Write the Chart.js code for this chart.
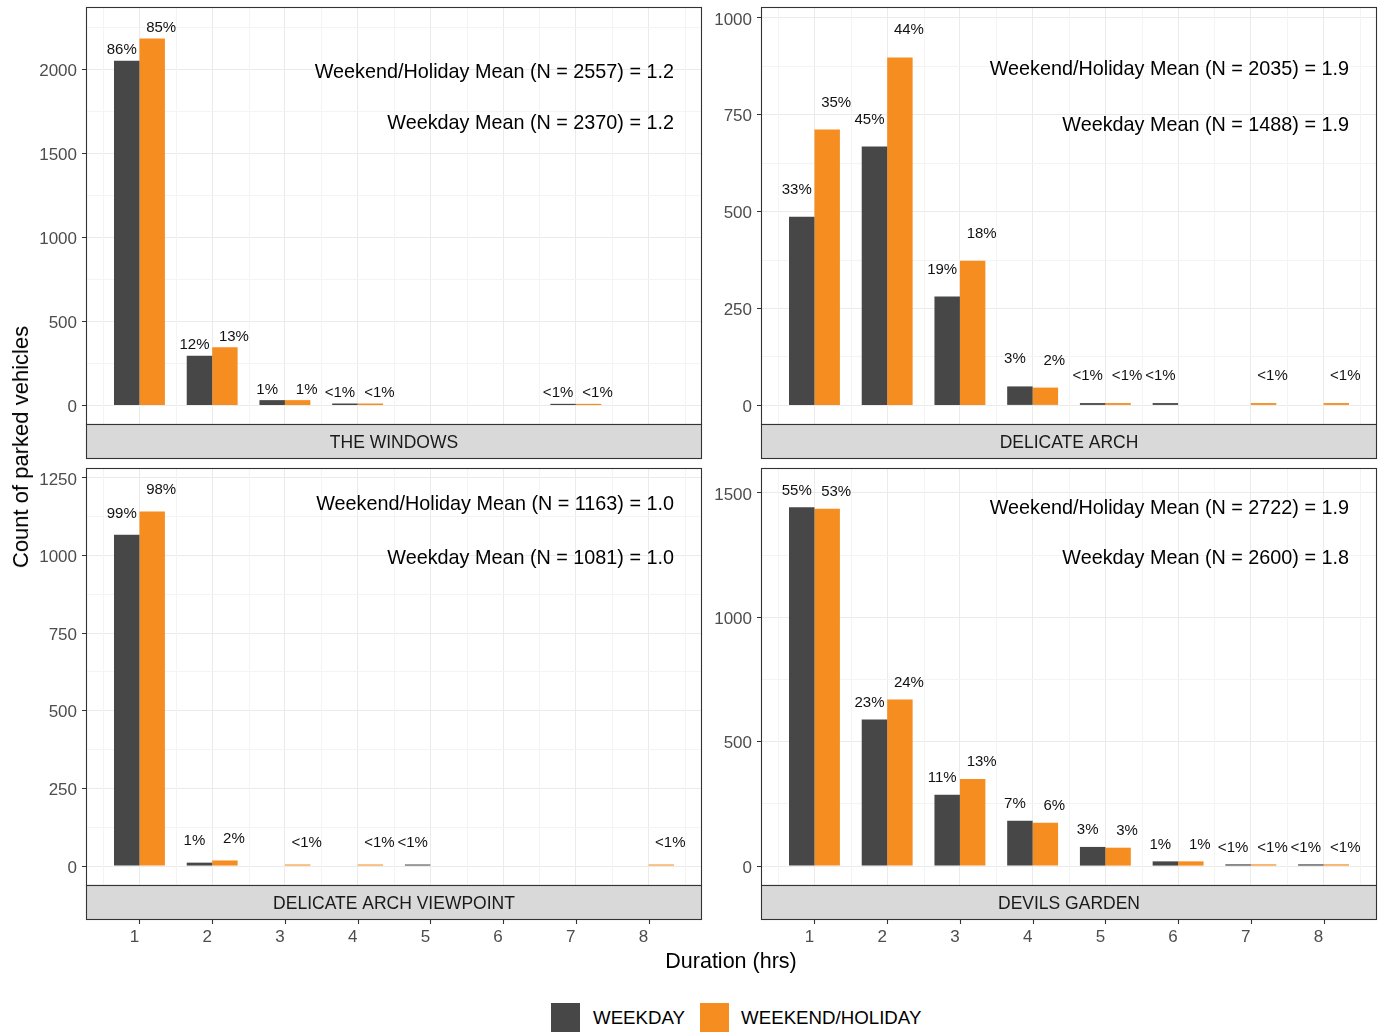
<!DOCTYPE html>
<html>
<head>
<meta charset="utf-8">
<title>Parking duration by location</title>
<script src="https://cdn.jsdelivr.net/npm/chart.js@4.4.1/dist/chart.umd.min.js"></script>
<style>
  body { margin: 0; background: #fff; font-family: 'Liberation Sans', Arial, sans-serif; }
  #wrap { position: relative; width: 1383px; height: 1032px; overflow: hidden; }
  canvas { position: absolute; }
  .ytitle { position: absolute; left: 21px; top: 447px; transform: translate(-50%, -50%) rotate(-90deg);
            white-space: nowrap; font-size: 22px; color: #000; }
  .xtitle { position: absolute; left: 731px; top: 961px; transform: translate(-50%, -50%);
            white-space: nowrap; font-size: 21.5px; color: #000; }
  .legend { position: absolute; left: 551px; top: 1003px; display: flex; align-items: center; height: 30px; }
  .legend .key { width: 29px; height: 30px; }
  .legend .txt { font-size: 18.7px; color: #000; margin: 0 15px 0 13px; }
</style>
</head>
<body>
<div id="wrap">
  <canvas id="c1" width="706" height="462" style="left:0;top:0"></canvas>
  <canvas id="c2" width="677" height="462" style="left:706px;top:0"></canvas>
  <canvas id="c3" width="706" height="493" style="left:0;top:462px"></canvas>
  <canvas id="c4" width="677" height="493" style="left:706px;top:462px"></canvas>
  <div class="ytitle">Count of parked vehicles</div>
  <div class="xtitle">Duration (hrs)</div>
  <div class="legend">
    <div class="key" style="background:#474747"></div><span class="txt">WEEKDAY</span>
    <div class="key" style="background:#F68D20"></div><span class="txt" style="margin-left:12px">WEEKEND/HOLIDAY</span>
  </div>
</div>

<script>
// Durations (hrs) on the x axis
const durations = [1, 2, 3, 4, 5, 6, 7, 8];

// THE WINDOWS
const windowsWeekday = [2052, 296, 32, 12, null, null, 10, null];
const windowsWeekend = [2185, 347, 32, 12, null, null, 10, null];
const windowsWeekdayPct = ['86%', '12%', '1%', '<1%', '', '', '<1%', ''];
const windowsWeekendPct = ['85%', '13%', '1%', '<1%', '', '', '<1%', ''];
const windowsTicks = [0, 500, 1000, 1500, 2000];

// DELICATE ARCH
const archWeekday = [487, 668, 281, 49, 6, 6, null, null];
const archWeekend = [712, 898, 373, 46, 6, null, 6, 6];
const archWeekdayPct = ['33%', '45%', '19%', '3%', '<1%', '<1%', '', ''];
const archWeekendPct = ['35%', '44%', '18%', '2%', '<1%', '', '<1%', '<1%'];
const archTicks = [0, 250, 500, 750, 1000];

// DELICATE ARCH VIEWPOINT
const viewpointWeekday = [1067, 11, null, null, 5, null, null, null];
const viewpointWeekend = [1142, 18, 5, 5, null, null, null, 5];
const viewpointWeekdayPct = ['99%', '1%', '', '', '<1%', '', '', ''];
const viewpointWeekendPct = ['98%', '2%', '<1%', '<1%', '', '', '', '<1%'];
const viewpointTicks = [0, 250, 500, 750, 1000, 1250];

// DEVILS GARDEN
const devilsWeekday = [1442, 589, 287, 182, 77, 19, 7, 7];
const devilsWeekend = [1436, 670, 350, 174, 74, 19, 7, 7];
const devilsWeekdayPct = ['55%', '23%', '11%', '7%', '3%', '1%', '<1%', '<1%'];
const devilsWeekendPct = ['53%', '24%', '13%', '6%', '3%', '1%', '<1%', '<1%'];
const devilsTicks = [0, 500, 1000, 1500];

// Means shown in each panel
const weekendN = [2557, 2035, 1163, 2722];
const weekendMean = ['1.2', '1.9', '1.0', '1.9'];
const weekdayN = [2370, 1488, 1081, 2600];
const weekdayMean = ['1.2', '1.9', '1.0', '1.8'];

const weekdayColor = '#474747';
const weekendColor = '#F68D20';
const labelNudge = 75;
const textDy = 2;
const FONT = "'Liberation Sans', Arial, sans-serif";

const panels = [
  { id: 'c1', name: 'THE WINDOWS', weekday: windowsWeekday, weekend: windowsWeekend,
    weekdayPct: windowsWeekdayPct, weekendPct: windowsWeekendPct, ticks: windowsTicks, yRange: [-110, 2372],
    bottomRow: false, yWidth: 86, padding: { top: 7, right: 4, left: 0, bottom: 0 }, xHeight: 38, annotY: [1994, 1690] },
  { id: 'c2', name: 'DELICATE ARCH', weekday: archWeekday, weekend: archWeekend,
    weekdayPct: archWeekdayPct, weekendPct: archWeekendPct, ticks: archTicks, yRange: [-48, 1028],
    bottomRow: false, yWidth: 55, padding: { top: 7, right: 6, left: 0, bottom: 0 }, xHeight: 38, annotY: [872, 727] },
  { id: 'c3', name: 'DELICATE ARCH VIEWPOINT', weekday: viewpointWeekday, weekend: viewpointWeekend,
    weekdayPct: viewpointWeekdayPct, weekendPct: viewpointWeekendPct, ticks: viewpointTicks, yRange: [-61, 1282],
    bottomRow: true, yWidth: 86, padding: { top: 6, right: 4, left: 0, bottom: 0 }, xHeight: 70, annotY: [1170, 997] },
  { id: 'c4', name: 'DEVILS GARDEN', weekday: devilsWeekday, weekend: devilsWeekend,
    weekdayPct: devilsWeekdayPct, weekendPct: devilsWeekendPct, ticks: devilsTicks, yRange: [-76, 1600],
    bottomRow: true, yWidth: 55, padding: { top: 6, right: 6, left: 0, bottom: 0 }, xHeight: 70, annotY: [1445, 1244] }
];

// Draws minor x grid, percent labels, mean annotations, panel border and the facet strip
function makeDecor(p, idx) {
  return {
    id: 'decor' + idx,
    beforeDatasetsDraw(chart) {
      const ctx = chart.ctx;
      const a = chart.chartArea;
      ctx.save();
      ctx.strokeStyle = '#F4F4F4';
      ctx.lineWidth = 1;
      ctx.beginPath();
      for (let v = 0.5; v <= 8.5; v += 1) {
        const x = Math.round(chart.scales.x.getPixelForValue(v)) + 0.5;
        ctx.moveTo(x, a.top);
        ctx.lineTo(x, a.bottom);
      }
      ctx.stroke();
      ctx.restore();
    },
    afterDatasetsDraw(chart) {
      const ctx = chart.ctx;
      const xs = chart.scales.x, ys = chart.scales.y;
      ctx.save();
      ctx.fillStyle = '#111';
      ctx.font = '15px ' + FONT;
      ctx.textAlign = 'center';
      ctx.textBaseline = 'middle';
      chart.data.datasets.forEach((ds, di) => {
        const meta = chart.getDatasetMeta(di);
        ds.pctLabels.forEach((txt, i) => {
          if (!txt) return;
          const v = ds.data[i].y || 0;
          ctx.fillText(txt, meta.data[i].x + ds.labelShift, ys.getPixelForValue(v + labelNudge) + textDy);
        });
      });
      // mean annotations
      ctx.fillStyle = '#000';
      ctx.font = '19.8px ' + FONT;
      ctx.textAlign = 'right';
      const ax = xs.getPixelForValue(8.35);
      ctx.fillText(`Weekend/Holiday Mean (N = ${weekendN[idx]}) = ${weekendMean[idx]}`, ax, ys.getPixelForValue(p.annotY[0]) + textDy);
      ctx.fillText(`Weekday Mean (N = ${weekdayN[idx]}) = ${weekdayMean[idx]}`, ax, ys.getPixelForValue(p.annotY[1]) + textDy);
      ctx.restore();
    },
    afterDraw(chart) {
      const ctx = chart.ctx;
      const a = chart.chartArea;
      const stripH = 34;
      ctx.save();
      ctx.strokeStyle = '#333';
      ctx.lineWidth = 1.1;
      ctx.strokeRect(a.left + 0.5, a.top + 0.5, a.right - a.left - 1, a.bottom - a.top);
      ctx.fillStyle = '#D9D9D9';
      ctx.fillRect(a.left + 0.5, a.bottom + 0.5, a.right - a.left - 1, stripH);
      ctx.strokeRect(a.left + 0.5, a.bottom + 0.5, a.right - a.left - 1, stripH);
      ctx.fillStyle = '#1A1A1A';
      ctx.font = '17.5px ' + FONT;
      ctx.textAlign = 'center';
      ctx.textBaseline = 'middle';
      ctx.fillText(p.name, (a.left + a.right) / 2, a.bottom + stripH / 2 + 2);
      if (p.bottomRow) {
        ctx.beginPath();
        durations.forEach(d => {
          const x = Math.round(chart.scales.x.getPixelForValue(d)) + 0.5;
          ctx.moveTo(x, a.bottom + stripH + 0.5);
          ctx.lineTo(x, a.bottom + stripH + 5);
        });
        ctx.stroke();
      }
      ctx.restore();
    }
  };
}

function makePanel(p, idx) {
  const xPad = (8.35 - 0.65) * 0.05;
  const major = p.ticks[1] - p.ticks[0];
  const minor = major / 2;
  const isMajorY = v => Math.abs(v / major - Math.round(v / major)) < 1e-6;
  const tickVal = c => (c && c.tick ? c.tick.value : NaN);

  new Chart(document.getElementById(p.id), {
    type: 'bar',
    data: {
      datasets: [
        { label: 'WEEKDAY', data: durations.map((d, i) => ({ x: d, y: p.weekday[i] })),
          backgroundColor: weekdayColor, categoryPercentage: 0.7, barPercentage: 1.0,
          pctLabels: p.weekdayPct, labelShift: -5 },
        { label: 'WEEKEND/HOLIDAY', data: durations.map((d, i) => ({ x: d, y: p.weekend[i] })),
          backgroundColor: weekendColor, categoryPercentage: 0.7, barPercentage: 1.0,
          pctLabels: p.weekendPct, labelShift: 9 }
      ]
    },
    options: {
      responsive: false,
      animation: false,
      layout: { padding: p.padding },
      plugins: { legend: { display: false }, tooltip: { enabled: false } },
      scales: {
        x: {
          type: 'linear',
          offset: false,
          min: 0.65 - xPad,
          max: 8.35 + xPad,
          afterBuildTicks: s => { s.ticks = durations.map(d => ({ value: d })); },
          afterFit: s => { s.height = p.xHeight; s.paddingLeft = 0; s.paddingRight = 0; },
          border: { display: false },
          grid: { offset: false, drawTicks: false, color: '#EBEBEB', lineWidth: 1 },
          ticks: {
            display: p.bottomRow,
            padding: 42,
            labelOffset: -5,
            autoSkip: false,
            maxRotation: 0,
            color: '#4D4D4D',
            font: { family: FONT, size: 17 },
            callback: v => String(v)
          }
        },
        y: {
          min: p.yRange[0],
          max: p.yRange[1],
          afterBuildTicks: s => {
            const t = [];
            for (let v = 0; v <= s.max; v += minor) t.push({ value: v });
            s.ticks = t;
          },
          afterFit: s => { s.width = p.yWidth; s.paddingTop = 0; s.paddingBottom = 0; },
          border: { display: false },
          grid: {
            color: c => isMajorY(tickVal(c)) ? '#EBEBEB' : '#F4F4F4',
            lineWidth: 1,
            tickLength: 4,
            tickColor: c => isMajorY(tickVal(c)) ? '#333' : 'rgba(0,0,0,0)'
          },
          ticks: {
            padding: 5,
            labelOffset: 2,
            autoSkip: false,
            color: '#4D4D4D',
            font: { family: FONT, size: 17 },
            callback: v => isMajorY(v) ? String(v) : ''
          }
        }
      }
    },
    plugins: [makeDecor(p, idx)]
  });
}

document.addEventListener('DOMContentLoaded', () => {
  panels.forEach((p, i) => makePanel(p, i));
});
</script>
</body>
</html>
